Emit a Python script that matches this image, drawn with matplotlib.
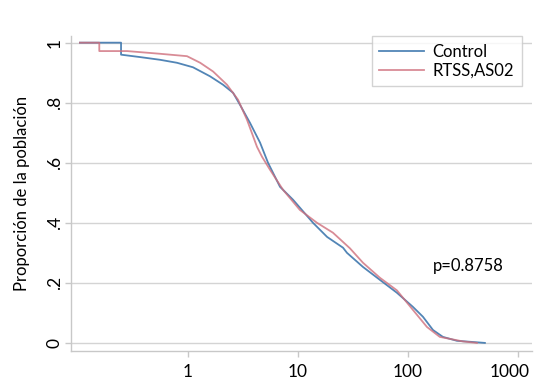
import matplotlib
matplotlib.use("Agg")
import matplotlib.pyplot as plt
import matplotlib.transforms as mtransforms
from matplotlib.ticker import FixedLocator, NullLocator

plt.rcParams['font.family'] = ['Lato', 'DejaVu Sans']

# time (log scale) and proportion of the population still "above" the threshold
control_x = [0.104, 0.246, 0.246, 0.366, 0.556, 0.794, 1.11, 1.585, 2.08, 2.57,
             2.97, 3.66, 4.52, 5.34, 6.86, 9.01, 13.7, 18.4, 25.7, 27.9, 39.0,
             55.6, 79.4, 111, 137, 169, 208, 279, 501]
control_y = [1.0, 1.0, 0.96, 0.952, 0.943, 0.933, 0.918, 0.888, 0.86, 0.833,
             0.793, 0.733, 0.667, 0.60, 0.52, 0.477, 0.40, 0.353, 0.317, 0.30,
             0.253, 0.21, 0.167, 0.12, 0.087, 0.043, 0.02, 0.007, 0.0]

rtss_x = [0.104, 0.156, 0.156, 0.279, 0.556, 0.979, 1.29, 1.69, 2.26, 2.85,
          3.44, 4.24, 4.71, 5.56, 7.31, 10.4, 14.9, 20.8, 29.7, 39.0, 55.6,
          79.4, 111, 149, 195, 316, 424]
rtss_y = [1.0, 1.0, 0.972, 0.972, 0.963, 0.955, 0.933, 0.904, 0.86, 0.81,
          0.743, 0.653, 0.62, 0.577, 0.51, 0.443, 0.40, 0.367, 0.315, 0.267,
          0.217, 0.175, 0.11, 0.053, 0.02, 0.005, 0.0]

y_ticks = [0, 0.2, 0.4, 0.6, 0.8, 1]
y_labels = ['0', '.2', '.4', '.6', '.8', '1']
x_ticks = [1, 10, 100, 1000]
x_labels = ['1', '10', '100', '1000']

fig = plt.figure(figsize=(5.34, 3.78), dpi=100)
ax = fig.add_axes([0.133, 0.0714, 0.863, 0.834])

grey = '#c8c8c8'
ax.plot(control_x, control_y, color='#3f78ae', lw=1.3, alpha=0.9, label='Control')
ax.plot(rtss_x, rtss_y, color='#cf6f7c', lw=1.3, alpha=0.8, label='RTSS,AS02')

ax.set_xscale('log')
ax.set_xlim(0.0863, 1340)
ax.set_ylim(-0.027, 1.023)

ax.xaxis.set_major_locator(FixedLocator(x_ticks))
ax.xaxis.set_minor_locator(NullLocator())
ax.set_xticklabels(x_labels)
ax.set_yticks(y_ticks)
ax.set_yticklabels(y_labels, rotation=90, va='center')

ax.grid(axis='y', color='#d4d4d4', lw=1)
ax.set_axisbelow(True)
for s in ['top', 'right']:
    ax.spines[s].set_visible(False)
for s in ['left', 'bottom']:
    ax.spines[s].set_color(grey)
    ax.spines[s].set_linewidth(1)
ax.tick_params(axis='both', colors=grey, length=4, width=1, labelsize=12.5,
               labelcolor='black')
ax.tick_params(axis='x', pad=5)
ax.tick_params(axis='y', pad=2)

# last x label sits a bit left of its tick so it stays inside the picture
last = ax.get_xticklabels()[-1]
last.set_transform(last.get_transform() +
                   mtransforms.ScaledTranslation(-6 / 72, 0, fig.dpi_scale_trans))

ax.set_ylabel('Proporción de la población', fontsize=12, labelpad=12)

ax.text(169, 0.257, 'p=0.8758', fontsize=12, va='center', ha='left')

leg = ax.legend(loc='upper right', bbox_to_anchor=(0.978, 0.998), fontsize=12,
                frameon=True, fancybox=False, handlelength=2.7, borderpad=0.45,
                labelspacing=0.15, handletextpad=0.5, borderaxespad=0)
leg.get_frame().set_edgecolor(grey)
leg.get_frame().set_linewidth(1)

fig.savefig('out.png', dpi=100)
